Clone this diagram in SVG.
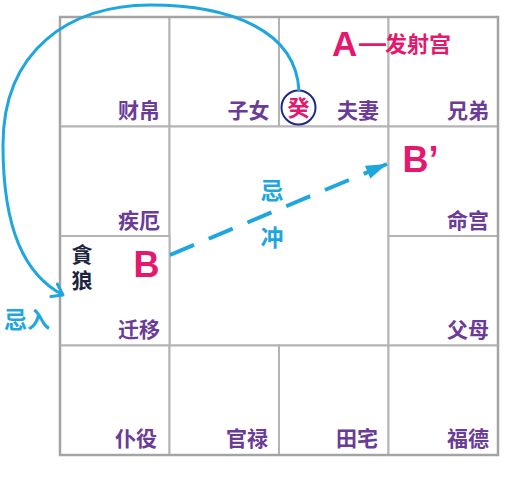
<svg xmlns="http://www.w3.org/2000/svg" width="505" height="489" viewBox="0 0 505 489">
<style>
.cell{fill:#fff;stroke:#b4b4b4;stroke-width:2}
.lbl{font-family:"Noto Sans CJK SC","Noto Sans CJK TC",sans-serif;font-weight:bold;font-size:21px;fill:#6a3c98;text-anchor:end}
.blue{font-family:"Noto Sans CJK SC",sans-serif;font-weight:bold;font-size:23px;fill:#1ea6de}
.pink{fill:#e5186e;font-weight:bold}
.latin{font-family:"Liberation Sans",Arial,sans-serif}
.cjk{font-family:"Noto Sans CJK SC",sans-serif}
</style>
<defs>
<marker id="open" markerUnits="userSpaceOnUse" viewBox="-14 -10 18 20" refX="0" refY="0" markerWidth="18" markerHeight="20" orient="auto">
<path d="M -10 -7 L 0 0 L -10 7" fill="none" stroke="#1ea6de" stroke-width="3" stroke-linecap="round" stroke-linejoin="round"/>
</marker>
<marker id="tri" markerUnits="userSpaceOnUse" viewBox="-22 -8 24 16" refX="0" refY="0" markerWidth="24" markerHeight="16" orient="auto">
<path d="M 0 0 L -21 -7 L -21 7 Z" fill="#1ea6de"/>
</marker>
</defs>
<rect width="505" height="489" fill="#fff"/>

<g id="cell-caibo"><rect class="cell" x="60" y="17" width="109.5" height="109.5"/><text class="lbl" x="160" y="118">财帛</text></g>
<g id="cell-zinv"><rect class="cell" x="169.5" y="17" width="109.5" height="109.5"/><text class="lbl" x="269.5" y="118">子女</text></g>
<g id="cell-fuqi"><rect class="cell" x="279" y="17" width="109.5" height="109.5"/><text class="lbl" x="379" y="118">夫妻</text></g>
<g id="cell-xiongdi"><rect class="cell" x="388.5" y="17" width="109.5" height="109.5"/><text class="lbl" x="489" y="118">兄弟</text></g>
<g id="cell-jie"><rect class="cell" x="60" y="126.5" width="109.5" height="109.5"/><text class="lbl" x="160" y="227.5">疾厄</text></g>
<g id="cell-center"><rect class="cell" x="169.5" y="126.5" width="219" height="219"/></g>
<g id="cell-minggong"><rect class="cell" x="388.5" y="126.5" width="109.5" height="109.5"/><text class="lbl" x="489" y="227.5">命宫</text></g>
<g id="cell-qianyi"><rect class="cell" x="60" y="236" width="109.5" height="109.5"/><text class="lbl" x="160" y="337">迁移</text></g>
<g id="cell-fumu"><rect class="cell" x="388.5" y="236" width="109.5" height="109.5"/><text class="lbl" x="489" y="337">父母</text></g>
<g id="cell-puyi"><rect class="cell" x="60" y="345.5" width="109.5" height="109.5"/><text class="lbl" x="157" y="446">仆役</text></g>
<g id="cell-guanlu"><rect class="cell" x="169.5" y="345.5" width="109.5" height="109.5"/><text class="lbl" x="268" y="446">官禄</text></g>
<g id="cell-tianzhai"><rect class="cell" x="279" y="345.5" width="109.5" height="109.5"/><text class="lbl" x="378" y="446">田宅</text></g>
<g id="cell-fude"><rect class="cell" x="388.5" y="345.5" width="109.5" height="109.5"/><text class="lbl" x="489" y="446">福德</text></g>
<rect x="60" y="17" width="438" height="438" fill="none" stroke="#a4a4a4" stroke-width="2.5"/>

<g id="label-A"><text class="pink" y="56"><tspan class="latin" x="332" font-size="35">A</tspan><tspan class="latin" x="359" y="52" font-size="27">—</tspan><tspan class="cjk" x="385" y="52" font-size="22">发射宫</tspan></text></g>
<g id="node-gui"><circle cx="298.5" cy="107.5" r="17" fill="#fff" stroke="#1f2a86" stroke-width="2"/><text class="pink cjk" x="298.5" y="115.5" font-size="22" text-anchor="middle">癸</text></g>
<g id="label-tanlang"><text x="82" y="244" writing-mode="vertical-rl" letter-spacing="5" font-family="Noto Sans CJK TC, Noto Sans CJK SC, sans-serif" font-weight="bold" font-size="21" fill="#1c2540">貪狼</text></g>
<g id="node-B"><text class="pink latin" x="133.5" y="277" font-size="36">B</text></g>
<g id="node-B2"><text class="pink latin" x="402.5" y="172" font-size="36">B’</text></g>

<g id="connectors">
<path d="M 299 91 C 296 30 230 5 150 5 C 70 5 3 50 3 145 C 3 230 25 275 63 295" fill="none" stroke="#1ea6de" stroke-width="3" marker-end="url(#open)"/>
<path d="M 170 255 L 387 164" fill="none" stroke="#1ea6de" stroke-width="4" stroke-dasharray="26 16" marker-end="url(#tri)"/>
</g>
<g id="labels-blue">
<text class="blue" x="272" y="199" text-anchor="middle">忌</text>
<text class="blue" x="272" y="246" text-anchor="middle">冲</text>
<text class="blue" x="4" y="328">忌入</text>
</g>
</svg>
